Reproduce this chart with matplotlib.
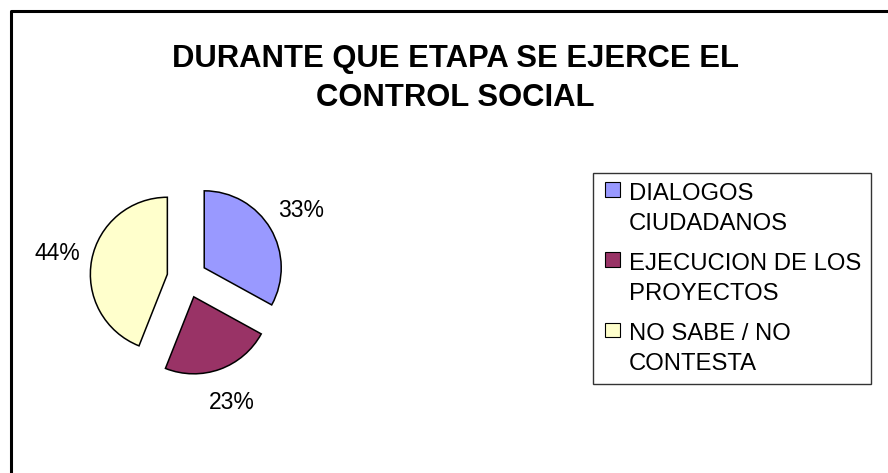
import matplotlib
matplotlib.use("Agg")
import matplotlib.pyplot as plt
from matplotlib.patches import Rectangle
from matplotlib.legend_handler import HandlerPatch

plt.rcParams['font.family'] = ['Liberation Sans', 'DejaVu Sans']

categories = ["DIALOGOS\nCIUDADANOS", "EJECUCION DE LOS\nPROYECTOS", "NO SABE / NO\nCONTESTA"]
values = [33, 23, 44]
colors = ["#9999FF", "#993366", "#FFFFCC"]
title = "DURANTE QUE ETAPA SE EJERCE EL\nCONTROL SOCIAL"

W, H = 888, 473
fig = plt.figure(figsize=(W / 100, H / 100), dpi=100)
ax = fig.add_axes([0, 0, 1, 1])
ax.set_xlim(0, W)
ax.set_ylim(0, H)
ax.set_aspect('equal')
ax.axis('off')

# frame (only left and top edges are visible in the crop)
ax.plot([11, 11, W], [0, H - 11, H - 11], color='black', lw=2.2, solid_capstyle='butt')

wedges, texts, autotexts = ax.pie(
    values, colors=colors, startangle=90, counterclock=False,
    center=(187, H - 278), radius=77, explode=[20, 20, 20],
    autopct='%1.0f%%', pctdistance=1.46,
    wedgeprops=dict(edgecolor='black', linewidth=1.1),
    textprops=dict(fontsize=16.5, color='black'))
ax.set_xlim(0, W)
ax.set_ylim(0, H)

fig.text(455 / W, 1 - 44 / H, title, ha='center', va='top',
         fontsize=22.3, fontweight='bold', linespacing=1.38)

FS = 17.2


class FirstLineHandler(HandlerPatch):
    def create_artists(self, legend, orig_handle, xdescent, ydescent,
                       width, height, fontsize, trans):
        s = 0.6 * fontsize
        p = Rectangle((-xdescent + width - s, -ydescent + 0.82 * fontsize), s, s,
                      facecolor=orig_handle.get_facecolor(),
                      edgecolor='black', linewidth=0.8, transform=trans)
        return [p]


leg = ax.legend(wedges, categories, loc='upper left',
                bbox_to_anchor=(593 / W, 1 - 173 / H), bbox_transform=fig.transFigure,
                fontsize=FS, frameon=True, fancybox=False, shadow=False,
                handlelength=0.71, handleheight=0.6, handletextpad=0.39,
                labelspacing=0.75, borderpad=0.4, borderaxespad=0,
                handler_map={w: FirstLineHandler() for w in wedges})
for t in leg.get_texts():
    t.set_linespacing(1.48)
leg.get_frame().set_edgecolor('black')
leg.get_frame().set_linewidth(1.0)

fig.savefig("out.png", dpi=100)
